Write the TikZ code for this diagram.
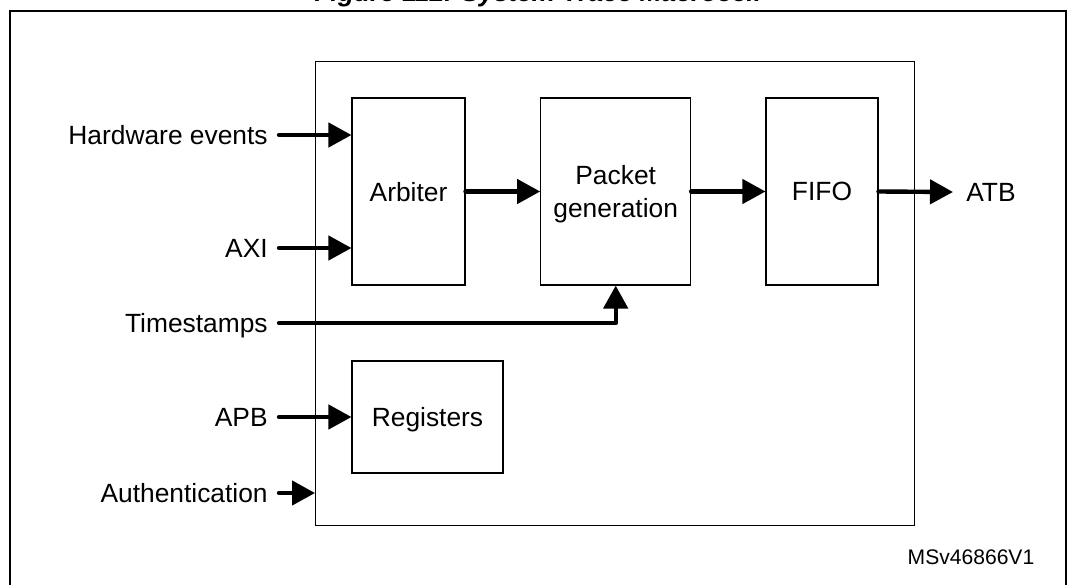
\documentclass[tikz,border=0pt]{standalone}
\usepackage{fontspec}
\setmainfont{Liberation Sans}
\usetikzlibrary{arrows.meta, positioning}

\begin{document}
\begin{tikzpicture}[x=0.02cm, y=-0.02cm,
    font=\fontsize{15}{19}\selectfont,
    blk/.style={draw, line width=0.6pt, align=center, inner sep=0pt, text depth=0pt},
    sig/.style={line width=2.5pt, line cap=round, line join=round, -{Triangle[length=0.46cm, width=0.48cm]}},
    lbl/.style={anchor=east, inner ysep=0pt, inner xsep=0.22cm, text depth=0pt}]
  \useasboundingbox (0,0) rectangle (1076,585);
  \clip (0,0) rectangle (1076,585);
  \draw[line width=1.1pt] (10,700) -- (10,11) -- (1066,11) -- (1066,700);
  \node[font=\fontsize{15}{19}\selectfont\bfseries\itshape, anchor=base, inner sep=0pt] (title) at (538,1) {Figure 112. System Trace Macrocell};

  \node[blk, minimum width=11.99cm, minimum height=9.3cm] (stm) at (615.25,293.5) {};
  \node[blk, minimum width=2.26cm, minimum height=3.74cm] (arb) at (408.5,191.5) {Arbiter};
  \node[blk, minimum width=3cm, minimum height=3.74cm] (pkt) at (615.7,191.5) {Packet\\generation};
  \node[blk, minimum width=2.24cm, minimum height=3.74cm] (fifo) at (822,191.5) {FIFO};
  \node[blk, minimum width=3.02cm, minimum height=2.24cm] (regs) at (427.5,417) {Registers};

  \node[lbl] (hw) at (279,135) {Hardware events};
  \node[lbl] (axi) at (279,248) {AXI};
  \node[lbl] (ts) at (279,323) {Timestamps};
  \node[lbl] (apb) at (279,417) {APB};
  \node[lbl] (auth) at (279,493) {Authentication};
  \node[anchor=west, inner ysep=0pt, inner xsep=0.26cm, text depth=0pt] (atb) at (953,192) {ATB};
  \node[font=\fontsize{12}{14}\selectfont, inner sep=0pt] (ref) at (971,557) {MSv46866V1};

  \draw[sig] (hw.east) -- (hw.east -| arb.west);
  \draw[sig] (axi.east) -- (axi.east -| arb.west);
  \draw[sig] (ts.east) -| (pkt.south);
  \draw[sig] (apb.east) -- (apb.east -| regs.west);
  \draw[sig] (auth.east) -- (auth.east -| stm.west);
  \draw[sig] (arb.east) -- (pkt.west);
  \draw[sig] (pkt.east) -- (fifo.west);
  \draw[sig] (fifo.east) -- (atb.west);
\end{tikzpicture}
\end{document}
